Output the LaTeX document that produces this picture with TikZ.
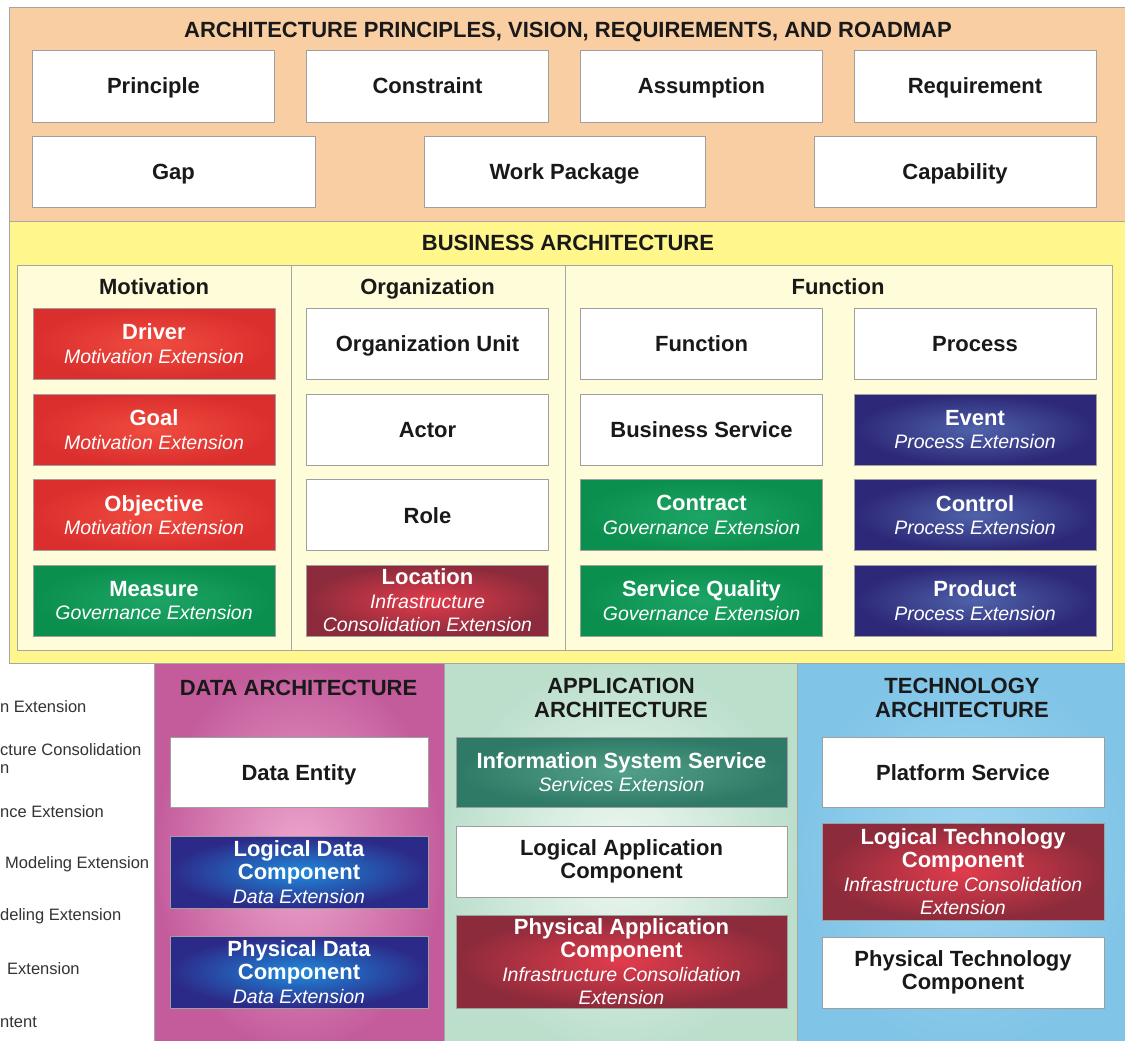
\documentclass[tikz,border=0pt]{standalone}
\usepackage{fontspec}
\setmainfont{Liberation Sans}
\usetikzlibrary{positioning,calc}
\definecolor{peach}{HTML}{F9CEA2}
\definecolor{bizyellow}{HTML}{FFF68C}
\definecolor{bizpale}{HTML}{FFFCD9}
\definecolor{motivin}{HTML}{F04C40}
\definecolor{motivout}{HTML}{DB2F2D}
\definecolor{govin}{HTML}{1DA565}
\definecolor{govout}{HTML}{0B8F4E}
\definecolor{infrain}{HTML}{E23C4C}
\definecolor{infraout}{HTML}{8C2B3B}
\definecolor{procin}{HTML}{4F62AA}
\definecolor{procout}{HTML}{2D2877}
\definecolor{datain}{HTML}{1F8ADC}
\definecolor{dataout}{HTML}{2C2A88}
\definecolor{svcin}{HTML}{52A08A}
\definecolor{svcout}{HTML}{2F7A66}
\definecolor{datapin}{HTML}{EEA8CF}
\definecolor{datapout}{HTML}{C45C9C}
\definecolor{apppin}{HTML}{EFF8F2}
\definecolor{apppout}{HTML}{BCDFCC}
\definecolor{techpin}{HTML}{A0D6F0}
\definecolor{techpout}{HTML}{80C4E7}
\newcommand{\subext}[1]{{\mdseries\itshape\fontsize{19.5}{23}\selectfont #1}}

\begin{document}
\begin{tikzpicture}[x=1pt, y=-1pt, line join=round,
  elem/.style={draw=gray!75, line width=0.9pt, minimum width=242pt, minimum height=71pt, inner sep=0pt, align=center, font=\bfseries\fontsize{22}{23.5}\selectfont},
  plainbox/.style={elem, fill=white, text=black!90},
  oneline/.style={text height=16pt, text depth=0pt},
  motivbox/.style={elem, text=white, inner color=motivin, outer color=motivout},
  govbox/.style={elem, text=white, inner color=govin, outer color=govout},
  infrabox/.style={elem, text=white, inner color=infrain, outer color=infraout},
  procbox/.style={elem, text=white, inner color=procin, outer color=procout},
  databox/.style={elem, text=white, inner color=datain, outer color=dataout},
  svcbox/.style={elem, text=white, inner color=svcin, outer color=svcout},
  ttl/.style={inner sep=0pt, align=center, text=black!90, font=\bfseries\fontsize{22}{24}\selectfont},
  lgd/.style={anchor=west, inner sep=0pt, text=black!80, font=\fontsize{16.5}{19.5}\selectfont},
  panel/.style={draw=gray!70, line width=0.8pt}]
\useasboundingbox (0,0) rectangle (1125,1041);
\clip (0,0) rectangle (1125,1041);
\fill[white] (0,0) rectangle (1125,1041);
\draw[panel, fill=peach]     (9,7)   rectangle (1135,221);
\draw[panel, fill=bizyellow] (9,221) rectangle (1135,663);
\draw[panel, fill=bizpale]   (17,265) rectangle (1112,650);
\draw[panel] (291,265) -- (291,650);
\draw[panel] (565,265) -- (565,650);
\draw[panel, inner color=datapin, outer color=datapout] (154,663) rectangle (444,1050);
\draw[panel, inner color=apppin, outer color=apppout]   (444,663) rectangle (797,1050);
\draw[panel, inner color=techpin, outer color=techpout] (797,663) rectangle (1135,1050);

\node[ttl, oneline] (tprinc) at (568,30)  {ARCHITECTURE PRINCIPLES, VISION, REQUIREMENTS, AND ROADMAP};
\node[plainbox, oneline, minimum height=72pt] (principle)   at (153.5,86) {Principle};
\node[plainbox, oneline, minimum height=72pt] (constraint)  at (427.5,86) {Constraint};
\node[plainbox, oneline, minimum height=72pt] (assumption)  at (701.5,86) {Assumption};
\node[plainbox, oneline, minimum height=72pt] (requirement) at (975,86)   {Requirement};
\node[plainbox, oneline, minimum width=283pt] (gap)        at (173.5,171.5) {Gap};
\node[plainbox, oneline, minimum width=281pt] (workpkg)    at (564.5,171.5) {Work Package};
\node[plainbox, oneline, minimum width=282pt] (capability) at (955,171.5)   {Capability};

\node[ttl, oneline] (tbiz)   at (568,242) {BUSINESS ARCHITECTURE};
\node[ttl, oneline] (tmotiv) at (154,286) {Motivation};
\node[ttl, oneline] (torg)   at (427.5,286) {Organization};
\node[ttl, oneline] (tfunc)  at (838,286) {Function};

\node[motivbox] (driver)    at (154,343.5) {Driver\\\subext{Motivation Extension}};
\node[motivbox] (goal)      at (154,429.5) {Goal\\\subext{Motivation Extension}};
\node[motivbox] (objective) at (154,515)   {Objective\\\subext{Motivation Extension}};
\node[govbox]   (measure)   at (154,600.5) {Measure\\\subext{Governance Extension}};

\node[plainbox, oneline] (orgunit)  at (427.5,343.5) {Organization Unit};
\node[plainbox, oneline] (actor)    at (427.5,429.5) {Actor};
\node[plainbox, oneline] (role)     at (427.5,515)   {Role};
\node[infrabox] (location) at (427.5,600.5) {Location\\\subext{Infrastructure}\\\subext{Consolidation Extension}};

\node[plainbox, oneline] (function)    at (701.5,343.5) {Function};
\node[plainbox, oneline] (bizservice)  at (701.5,429.5) {Business Service};
\node[govbox]   (contract)    at (701.5,515)   {Contract\\\subext{Governance Extension}};
\node[govbox]   (servquality) at (701.5,600.5) {Service Quality\\\subext{Governance Extension}};

\node[plainbox, oneline] (process) at (975,343.5) {Process};
\node[procbox]  (event)   at (975,429.5) {Event\\\subext{Process Extension}};
\node[procbox]  (control) at (975,515)   {Control\\\subext{Process Extension}};
\node[procbox]  (product) at (975,600.5) {Product\\\subext{Process Extension}};

\node[ttl, oneline] (tdata) at (298.5,687) {DATA ARCHITECTURE};
\node[ttl] (tapp)  at (621,698)   {APPLICATION\\ARCHITECTURE};
\node[ttl] (ttech) at (962,698)   {TECHNOLOGY\\ARCHITECTURE};

\node[plainbox, oneline, minimum width=258pt, minimum height=70pt] (dataentity) at (299,772) {Data Entity};
\node[databox, minimum width=258pt, minimum height=72pt]  (logdata)    at (299,872) {Logical Data\\Component\\\subext{Data Extension}};
\node[databox, minimum width=258pt, minimum height=72pt]  (physdata)   at (299,972) {Physical Data\\Component\\\subext{Data Extension}};

\node[svcbox, minimum width=331pt, minimum height=70pt]   (issvc)   at (621.5,772)   {Information System Service\\\subext{Services Extension}};
\node[plainbox, minimum width=331pt, minimum height=71pt] (logapp)  at (621.5,861.5) {Logical Application\\Component};
\node[infrabox, minimum width=331pt, minimum height=93pt] (physapp) at (621.5,961.5) {Physical Application\\Component\\\subext{Infrastructure Consolidation}\\\subext{Extension}};

\node[plainbox, oneline, minimum width=282pt, minimum height=70pt] (platsvc)  at (963,772)   {Platform Service};
\node[infrabox, minimum width=282pt, minimum height=97pt] (logtech)  at (963,871.5) {Logical Technology\\Component\\\subext{Infrastructure Consolidation}\\\subext{Extension}};
\node[plainbox, minimum width=282pt, minimum height=71pt] (phystech) at (963,972.5) {Physical Technology\\Component};

\node[lgd] (lgmotiv) at (0,707)  {n Extension};
\node[lgd] (lginfra) at (0,750)  {cture Consolidation};
\node[lgd] (lginfrb) at (0,769)  {n};
\node[lgd] (lggov)   at (0,812)  {nce Extension};
\node[lgd] (lgproc)  at (5,864)  {Modeling Extension};
\node[lgd] (lgdata)  at (0,916)  {deling Extension};
\node[lgd] (lgsvc)   at (7,969)  {Extension};
\node[lgd] (lgcore)  at (0,1022) {ntent};
\end{tikzpicture}
\end{document}
